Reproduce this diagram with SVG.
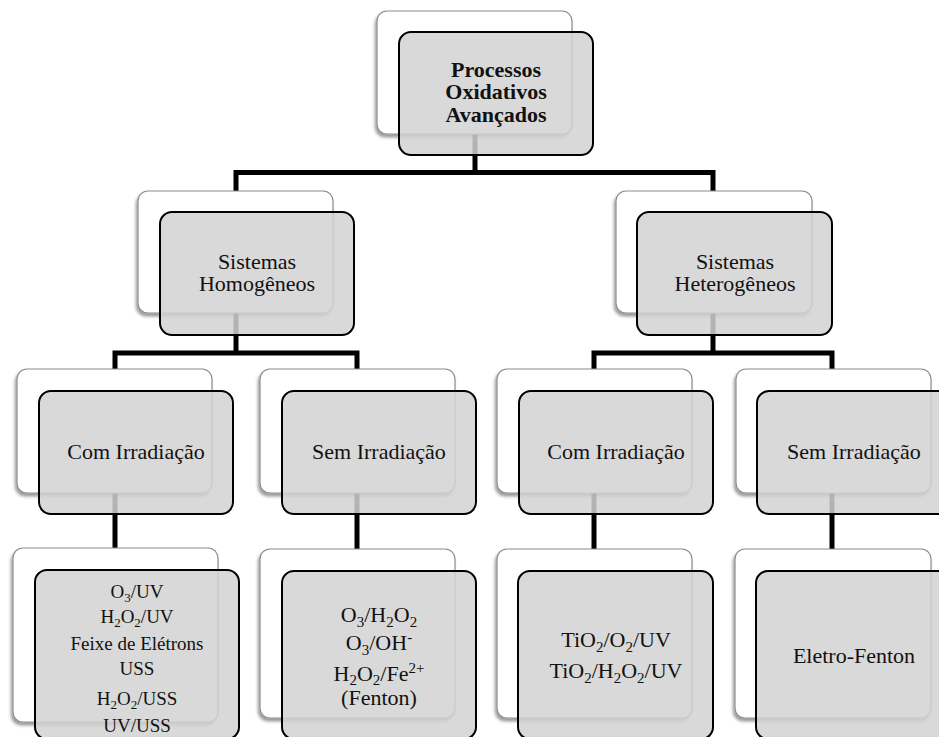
<svg xmlns="http://www.w3.org/2000/svg" width="939" height="737" viewBox="0 0 939 737">
<defs>
<filter id="sh" x="-10%" y="-10%" width="120%" height="125%">
<feDropShadow dx="-1.5" dy="3" stdDeviation="1.8" flood-color="#000" flood-opacity="0.4"/>
</filter>
</defs>
<style>
.back{fill:#fff;stroke:#8c8c8c;stroke-width:1.2;filter:url(#sh)}
.front{fill:rgb(210,210,210);fill-opacity:0.85;stroke:#000;stroke-width:2}
.t{font-family:"Liberation Serif","Times New Roman",serif;font-size:22px;fill:#111;text-anchor:middle}
.b{font-weight:bold}
.s{font-size:19px}
.c{fill:none;stroke:#000;stroke-width:5;stroke-linejoin:miter}
</style>
<rect width="939" height="737" fill="#fff"/>
<g id="connectors">
<path class="c" d="M475,134 V172.5"/>
<path class="c" d="M236,191 V172.5 H713 V191"/>
<path class="c" d="M236,313 V353"/>
<path class="c" d="M115,369 V353 H357 V369"/>
<path class="c" d="M713,313 V353"/>
<path class="c" d="M594,369 V353 H832 V369"/>
<path class="c" d="M115,493 V548"/>
<path class="c" d="M357,493 V549"/>
<path class="c" d="M594,493 V549"/>
<path class="c" d="M832,493 V549"/>
</g>
<g id="n_poa">
<rect class="back" x="377" y="11" width="195" height="123" rx="10"/>
<rect class="front" x="399" y="32" width="194" height="123" rx="12"/>
<text class="t b" x="496" y="77">Processos</text>
<text class="t b" x="496" y="99">Oxidativos</text>
<text class="t b" x="496" y="122">Avançados</text>
</g>
<g id="n_homo">
<rect class="back" x="138" y="191" width="195" height="122" rx="10"/>
<rect class="front" x="160" y="212" width="194" height="123" rx="12"/>
<text class="t" x="257" y="269">Sistemas</text>
<text class="t" x="257" y="291">Homogêneos</text>
</g>
<g id="n_hetero">
<rect class="back" x="616" y="191" width="196" height="122" rx="10"/>
<rect class="front" x="637" y="212" width="195" height="123" rx="12"/>
<text class="t" x="735" y="269">Sistemas</text>
<text class="t" x="735" y="291">Heterogêneos</text>
</g>
<g id="n_homo_com">
<rect class="back" x="17" y="369" width="195" height="124" rx="10"/>
<rect class="front" x="39" y="391" width="194" height="123" rx="12"/>
<text class="t" x="136" y="459">Com Irradiação</text>
</g>
<g id="n_homo_sem">
<rect class="back" x="260" y="369" width="195" height="124" rx="10"/>
<rect class="front" x="282" y="391" width="194" height="123" rx="12"/>
<text class="t" x="379" y="459">Sem Irradiação</text>
</g>
<g id="n_het_com">
<rect class="back" x="497" y="369" width="195" height="124" rx="10"/>
<rect class="front" x="519" y="391" width="194" height="123" rx="12"/>
<text class="t" x="616" y="459">Com Irradiação</text>
</g>
<g id="n_het_sem">
<rect class="back" x="736" y="369" width="195" height="124" rx="10"/>
<rect class="front" x="757" y="391" width="194" height="123" rx="12"/>
<text class="t" x="854" y="459">Sem Irradiação</text>
</g>
<g id="n_list_homo_com">
<rect class="back" x="13" y="548" width="205" height="174" rx="10"/>
<rect class="front" x="35" y="570" width="204" height="169" rx="12"/>
<text class="t s" x="137" y="598">O<tspan font-size="13" dy="4">3</tspan><tspan dy="-4">/UV</tspan></text>
<text class="t s" x="137" y="623">H<tspan font-size="13" dy="4">2</tspan><tspan dy="-4">O</tspan><tspan font-size="13" dy="4">2</tspan><tspan dy="-4">/UV</tspan></text>
<text class="t s" x="137" y="650">Feixe de Elétrons</text>
<text class="t s" x="137" y="675">USS</text>
<text class="t s" x="137" y="705">H<tspan font-size="13" dy="4">2</tspan><tspan dy="-4">O</tspan><tspan font-size="13" dy="4">2</tspan><tspan dy="-4">/USS</tspan></text>
<text class="t s" x="137" y="732">UV/USS</text>
</g>
<g id="n_list_homo_sem">
<rect class="back" x="260" y="549" width="195" height="169" rx="10"/>
<rect class="front" x="282" y="571" width="194" height="168" rx="12"/>
<text class="t" x="379" y="622">O<tspan font-size="15" dy="5">3</tspan><tspan dy="-5">/H</tspan><tspan font-size="15" dy="5">2</tspan><tspan dy="-5">O</tspan><tspan font-size="15" dy="5">2</tspan></text>
<text class="t" x="379" y="650">O<tspan font-size="15" dy="5">3</tspan><tspan dy="-5">/OH</tspan><tspan font-size="15" dy="-8">-</tspan></text>
<text class="t" x="379" y="681">H<tspan font-size="15" dy="4">2</tspan><tspan dy="-4">O</tspan><tspan font-size="15" dy="4">2</tspan><tspan dy="-4">/Fe</tspan><tspan font-size="15" dy="-8">2+</tspan></text>
<text class="t" x="379" y="705">(Fenton)</text>
</g>
<g id="n_list_het_com">
<rect class="back" x="497" y="549" width="195" height="169" rx="10"/>
<rect class="front" x="518" y="571" width="195" height="168" rx="12"/>
<text class="t" x="616" y="647">TiO<tspan font-size="15" dy="5">2</tspan><tspan dy="-5">/O</tspan><tspan font-size="15" dy="5">2</tspan><tspan dy="-5">/UV</tspan></text>
<text class="t" x="616" y="678">TiO<tspan font-size="15" dy="5">2</tspan><tspan dy="-5">/H</tspan><tspan font-size="15" dy="5">2</tspan><tspan dy="-5">O</tspan><tspan font-size="15" dy="5">2</tspan><tspan dy="-5">/UV</tspan></text>
</g>
<g id="n_list_het_sem">
<rect class="back" x="735" y="549" width="196" height="169" rx="10"/>
<rect class="front" x="756" y="571" width="195" height="168" rx="12"/>
<text class="t" x="854" y="663">Eletro-Fenton</text>
</g>
</svg>
